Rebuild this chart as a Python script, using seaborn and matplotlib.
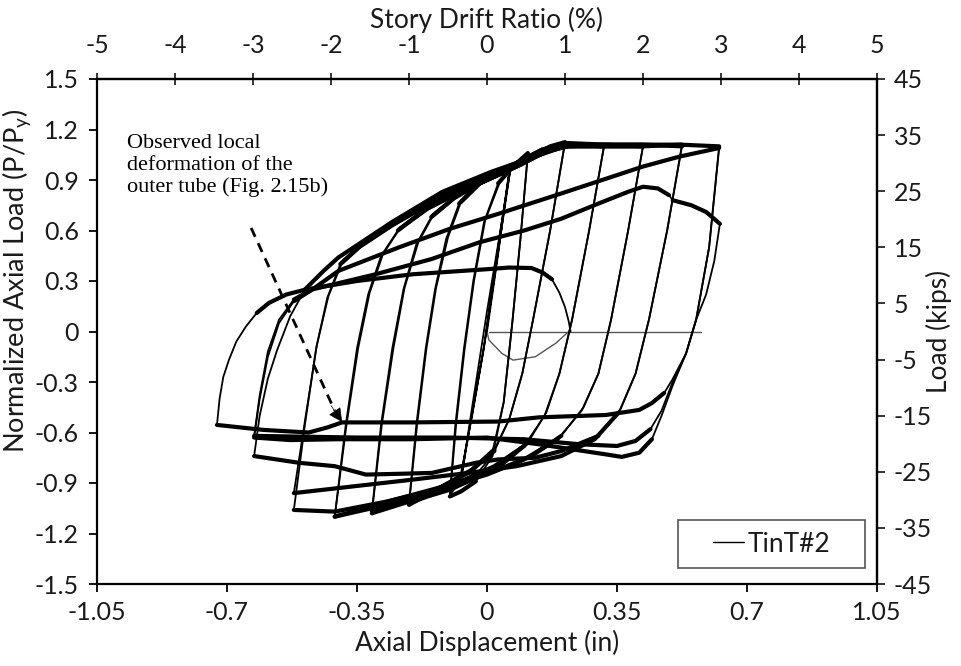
import numpy as np
import pandas as pd
import matplotlib
matplotlib.use("Agg")
import matplotlib.pyplot as plt
import seaborn as sns
from matplotlib.lines import Line2D
from matplotlib.patches import Rectangle

# ---------------- data (axial displacement [in], normalized load P/Py) ----------------
ELASTIC = [(0.0, 0.0), (0.03, 0.46), (0.058, 0.92), (0.03, 0.50), (-0.01, -0.12), (-0.045, -0.55),
           (-0.07, -0.88), (-0.04, -0.45), (0.0, 0.12), (0.03, 0.52), (0.062, 0.95), (0.035, 0.55),
           (-0.005, -0.05), (-0.04, -0.50), (-0.075, -0.90), (-0.10, -0.97)]
R1A = [(-0.10, -0.97), (-0.085, -0.55), (-0.062, -0.10), (-0.037, 0.30), (-0.008, 0.65), (0.03, 0.88),
       (0.07, 0.98), (0.11, 1.05)]
U1A = [(0.11, 1.05), (0.09, 0.55), (0.068, 0.05), (0.045, -0.42), (0.015, -0.74), (-0.03, -0.89),
       (-0.07, -0.95), (-0.10, -0.98)]
R1B = [(-0.10, -0.98), (-0.083, -0.55), (-0.06, -0.10), (-0.035, 0.30), (-0.005, 0.66), (0.035, 0.89),
       (0.075, 0.99), (0.11, 1.06)]
U1B = [(0.11, 1.06), (0.09, 0.55), (0.068, 0.05), (0.045, -0.42), (0.012, -0.74), (-0.04, -0.88),
       (-0.10, -0.94), (-0.16, -0.98), (-0.21, -1.02)]
R2A = [(-0.21, -1.02), (-0.19, -0.55), (-0.165, -0.10), (-0.14, 0.25), (-0.11, 0.55), (-0.075, 0.76),
       (-0.02, 0.88), (0.05, 0.96), (0.12, 1.04), (0.17, 1.10), (0.21, 1.125)]
U2A = [(0.21, 1.125), (0.17, 0.60), (0.124, 0.07), (0.095, -0.25), (0.06, -0.52), (0.02, -0.70),
       (-0.04, -0.82), (-0.12, -0.92), (-0.21, -1.03)]
R2B = [(-0.21, -1.03), (-0.188, -0.55), (-0.163, -0.10), (-0.137, 0.26), (-0.105, 0.56), (-0.07, 0.77),
       (-0.015, 0.89), (0.055, 0.97), (0.125, 1.05), (0.21, 1.12)]
U2B = [(0.21, 1.12), (0.17, 0.60), (0.124, 0.07), (0.095, -0.25), (0.06, -0.52), (0.02, -0.71),
       (-0.05, -0.84), (-0.13, -0.93), (-0.22, -1.00), (-0.31, -1.07)]
R3A = [(-0.31, -1.07), (-0.285, -0.55), (-0.255, -0.10), (-0.225, 0.25), (-0.19, 0.52), (-0.15, 0.68),
       (-0.09, 0.79), (-0.02, 0.88), (0.05, 0.95), (0.12, 1.03), (0.21, 1.11), (0.315, 1.10)]
U3A = [(0.315, 1.10), (0.275, 0.60), (0.229, 0.07), (0.195, -0.25), (0.16, -0.48), (0.11, -0.66),
       (0.04, -0.79), (-0.05, -0.88), (-0.18, -0.99), (-0.31, -1.08)]
R3B = [(-0.31, -1.08), (-0.283, -0.55), (-0.252, -0.10), (-0.222, 0.26), (-0.185, 0.53), (-0.145, 0.69),
       (-0.085, 0.80), (-0.01, 0.89), (0.06, 0.96), (0.13, 1.04), (0.21, 1.10), (0.315, 1.10)]
U3B = [(0.315, 1.10), (0.275, 0.60), (0.229, 0.07), (0.195, -0.25), (0.155, -0.50), (0.10, -0.68),
       (0.02, -0.80), (-0.08, -0.90), (-0.20, -0.99), (-0.31, -1.05), (-0.41, -1.10)]
R4A = [(-0.41, -1.10), (-0.38, -0.55), (-0.35, -0.10), (-0.32, 0.22), (-0.285, 0.45), (-0.24, 0.60),
       (-0.17, 0.72), (-0.09, 0.81), (0.0, 0.90), (0.08, 0.98), (0.15, 1.06), (0.21, 1.10), (0.32, 1.10),
       (0.42, 1.10)]
U4A = [(0.42, 1.10), (0.38, 0.60), (0.334, 0.07), (0.30, -0.25), (0.26, -0.45), (0.20, -0.62),
       (0.12, -0.74), (0.02, -0.83), (-0.10, -0.91), (-0.25, -1.00), (-0.41, -1.10)]
R4B = [(-0.41, -1.10), (-0.378, -0.55), (-0.347, -0.10), (-0.316, 0.23), (-0.28, 0.46), (-0.235, 0.61),
       (-0.16, 0.73), (-0.08, 0.82), (0.01, 0.91), (0.09, 0.99), (0.16, 1.07), (0.22, 1.10), (0.32, 1.11),
       (0.42, 1.10)]
U4B = [(0.42, 1.10), (0.38, 0.60), (0.334, 0.07), (0.30, -0.25), (0.255, -0.47), (0.19, -0.64),
       (0.10, -0.76), (0.0, -0.85), (-0.12, -0.93), (-0.27, -1.01), (-0.41, -1.07), (-0.52, -1.06)]
R5A = [(-0.52, -1.06), (-0.49, -0.55), (-0.46, -0.10), (-0.43, 0.20), (-0.395, 0.40), (-0.345, 0.50),
       (-0.256, 0.63), (-0.12, 0.80), (0.013, 0.93), (0.078, 0.99), (0.148, 1.07), (0.21, 1.11),
       (0.32, 1.10), (0.42, 1.10), (0.525, 1.11)]
U5A = [(0.525, 1.11), (0.485, 0.60), (0.436, 0.07), (0.40, -0.25), (0.355, -0.48), (0.29, -0.64),
       (0.20, -0.74), (0.08, -0.80), (-0.05, -0.84), (-0.20, -0.88), (-0.36, -0.92), (-0.52, -0.96)]
R5B = [(-0.52, -0.96), (-0.488, -0.50), (-0.458, -0.08), (-0.427, 0.21), (-0.39, 0.41), (-0.34, 0.51),
       (-0.25, 0.64), (-0.12, 0.81), (0.013, 0.94), (0.078, 1.00), (0.148, 1.08), (0.21, 1.11),
       (0.32, 1.11), (0.42, 1.11), (0.525, 1.10)]
U5B = [(0.525, 1.10), (0.485, 0.60), (0.436, 0.07), (0.40, -0.25), (0.36, -0.46), (0.30, -0.62),
       (0.20, -0.71), (0.13, -0.75), (0.03, -0.76), (-0.03, -0.78), (-0.148, -0.84), (-0.23, -0.845),
       (-0.326, -0.85), (-0.41, -0.80), (-0.506, -0.78), (-0.627, -0.74)]
R6A = [(-0.627, -0.74), (-0.612, -0.50), (-0.59, -0.28), (-0.565, -0.11), (-0.53, 0.09), (-0.49, 0.25),
       (-0.44, 0.36), (-0.40, 0.44), (-0.345, 0.52), (-0.256, 0.65), (-0.12, 0.83), (0.013, 0.95),
       (0.078, 1.00), (0.148, 1.08), (0.21, 1.12), (0.32, 1.11), (0.42, 1.11), (0.52, 1.11), (0.625, 1.10)]
U6A = [(0.625, 1.10), (0.598, 0.50), (0.563, 0.07), (0.536, -0.13), (0.50, -0.32), (0.47, -0.50),
       (0.444, -0.64), (0.41, -0.72), (0.363, -0.745), (0.32, -0.73), (0.23, -0.70), (0.14, -0.67),
       (0.0, -0.63), (-0.20, -0.64), (-0.40, -0.64), (-0.53, -0.645), (-0.627, -0.63)]
R6B = [(-0.627, -0.63), (-0.612, -0.40), (-0.59, -0.15), (-0.56, 0.05), (-0.52, 0.18), (-0.47, 0.25),
       (-0.40, 0.36), (-0.237, 0.50), (-0.10, 0.61), (0.032, 0.70), (0.20, 0.82), (0.31, 0.90),
       (0.42, 0.98), (0.52, 1.04), (0.625, 1.09)]
U6B = [(0.625, 1.09), (0.598, 0.50), (0.563, 0.07), (0.536, -0.13), (0.50, -0.30), (0.47, -0.47),
       (0.44, -0.58), (0.40, -0.65), (0.35, -0.68), (0.25, -0.67), (0.10, -0.64), (-0.10, -0.63),
       (-0.35, -0.63), (-0.627, -0.62)]
R6C = [(-0.627, -0.62), (-0.612, -0.38), (-0.59, -0.12), (-0.56, 0.07), (-0.52, 0.19), (-0.47, 0.25),
       (-0.30, 0.34), (-0.15, 0.43), (-0.02, 0.53), (0.10, 0.60), (0.20, 0.67), (0.30, 0.76), (0.38, 0.83),
       (0.42, 0.86), (0.46, 0.85), (0.49, 0.81), (0.50, 0.78), (0.55, 0.75), (0.59, 0.71), (0.627, 0.64)]
U6C = [(0.627, 0.64), (0.612, 0.42), (0.59, 0.22), (0.563, 0.07), (0.536, -0.13), (0.498, -0.29),
       (0.477, -0.365), (0.444, -0.425), (0.41, -0.466), (0.32, -0.496), (0.14, -0.51), (0.03, -0.535),
       (-0.20, -0.54), (-0.39, -0.54), (-0.43, -0.57), (-0.48, -0.60), (-0.60, -0.585), (-0.727, -0.555)]
R7 = [(-0.727, -0.555), (-0.72, -0.40), (-0.71, -0.27), (-0.695, -0.17), (-0.675, -0.06), (-0.649, 0.03),
      (-0.62, 0.11), (-0.587, 0.17), (-0.54, 0.22), (-0.487, 0.25), (-0.35, 0.30), (-0.20, 0.34),
      (0.0, 0.37), (0.06, 0.38), (0.12, 0.377), (0.15, 0.35), (0.175, 0.31), (0.195, 0.23), (0.21, 0.145),
      (0.22, 0.06), (0.225, 0.0)]
ZERO_LINE = [(0.005, 0.0), (0.575, 0.0)]
GRAY_DIP = [(0.0, 0.0), (0.005, -0.05), (0.04, -0.13), (0.07, -0.17), (0.13, -0.15), (0.185, -0.07),
            (0.22, 0.0)]

BRANCHES = [ELASTIC, R1A, U1A, R1B, U1B, R2A, U2A, R2B, U2B, R3A, U3A, R3B, U3B, R4A, U4A, R4B, U4B,
            R5A, U5A, R5B, U5B, R6A, U6A, R6B, U6B, R6C, U6C, R7]

X_TICKS = [-1.05, -0.7, -0.35, 0, 0.35, 0.7, 1.05]
X_TICKLABELS = ["-1.05", "-0.7", "-0.35", "0", "0.35", "0.7", "1.05"]
Y_TICKS = [1.5, 1.2, 0.9, 0.6, 0.3, 0, -0.3, -0.6, -0.9, -1.2, -1.5]
Y_TICKLABELS = ["1.5", "1.2", "0.9", "0.6", "0.3", "0", "-0.3", "-0.6", "-0.9", "-1.2", "-1.5"]
DRIFT_TICKS = [-5, -4, -3, -2, -1, 0, 1, 2, 3, 4, 5]
KIPS_TICKS = [45, 35, 25, 15, 5, -5, -15, -25, -35, -45]
DRIFT_PER_IN = 5 / 1.05
KIPS_PER_UNIT = 30.0

# ---------------- build plotting table (thick = noisy yield plateaus) ----------------
rows = []
run = 0
for pts in BRANCHES:
    prev = None
    for (x0, y0), (x1, y1) in zip(pts[:-1], pts[1:]):
        w = "thick" if abs(y1 - y0) < 2.5 * abs(x1 - x0) else "thin"
        if w != prev:
            run += 1
            rows.append((run, w, x0, y0))
            prev = w
        rows.append((run, w, x1, y1))
df = pd.DataFrame(rows, columns=["run", "w", "x", "y"])

gray = pd.concat([
    pd.DataFrame(ZERO_LINE, columns=["x", "y"]).assign(run=0),
    pd.DataFrame(GRAY_DIP, columns=["x", "y"]).assign(run=1),
])

# ---------------- style ----------------
sns.set_theme(style="ticks")
plt.rcParams["font.family"] = ["Lato", "DejaVu Sans"]
plt.rcParams["mathtext.fontset"] = "custom"
plt.rcParams["mathtext.rm"] = "Lato"
TXT = "#1a1a1a"
TICK_FS = 18
LABEL_FS = 19

fig = plt.figure(figsize=(9.62, 6.66), dpi=100)
ax = fig.add_axes([97 / 962, 1 - 584 / 666, 780 / 962, 505 / 666])

sns.lineplot(data=gray, x="x", y="y", units="run", estimator=None, sort=False,
             color="#555555", linewidth=1.0, ax=ax, legend=False)
sns.lineplot(data=df, x="x", y="y", units="run", estimator=None, sort=False,
             size="w", sizes={"thin": 1.3, "thick": 3.0}, color="black",
             ax=ax, legend=False, solid_joinstyle="round", solid_capstyle="round")

ax.set_xlim(-1.05, 1.05)
ax.set_ylim(-1.5, 1.5)
ax.set_xticks(X_TICKS)
ax.set_xticklabels(X_TICKLABELS)
ax.set_yticks(Y_TICKS)
ax.set_yticklabels(Y_TICKLABELS)
ax.set_xlabel("Axial Displacement (in)", fontsize=LABEL_FS, color=TXT)
ax.set_ylabel(r"Normalized Axial Load (P/P$_\mathregular{y}$)", fontsize=19.5, color=TXT)
ax.xaxis.set_label_coords(0.5, -0.09)
ax.yaxis.set_label_coords(-0.082, 0.60)
ax.tick_params(axis="x", direction="out", length=6, width=1.3, labelsize=TICK_FS,
               labelcolor=TXT, color="black", top=False, pad=6)
ax.tick_params(axis="y", direction="out", length=6, width=1.3, labelsize=TICK_FS,
               labelcolor=TXT, color="black", right=False, pad=7)
for s in ax.spines.values():
    s.set_color("black")
    s.set_linewidth(1.6)

top = ax.secondary_xaxis("top", functions=(lambda v: v * DRIFT_PER_IN, lambda v: v / DRIFT_PER_IN))
top.set_xticks(DRIFT_TICKS)
top.set_xticklabels([str(t) for t in DRIFT_TICKS])
top.set_xlabel("Story Drift Ratio (%)", fontsize=LABEL_FS, color=TXT, labelpad=5)
top.tick_params(direction="inout", length=9, width=1.3, labelsize=TICK_FS, labelcolor=TXT, pad=11)
top.spines["top"].set_linewidth(1.6)

right = ax.secondary_yaxis("right", functions=(lambda v: v * KIPS_PER_UNIT, lambda v: v / KIPS_PER_UNIT))
right.set_yticks(KIPS_TICKS)
right.set_yticklabels([str(t) for t in KIPS_TICKS])
right.set_ylabel("Load (kips)", fontsize=LABEL_FS, color=TXT, labelpad=-4)
right.tick_params(direction="out", length=6, width=1.3, labelsize=TICK_FS, labelcolor=TXT, pad=6)
right.spines["right"].set_linewidth(1.6)

# annotation
ax.text(-0.969, 1.175, "Observed local\ndeformation of the\nouter tube (Fig. 2.15b)",
        family=["Liberation Serif", "DejaVu Serif"], fontsize=16, ha="left", va="top",
        linespacing=1.2, color="black")
ax.plot([-0.635, -0.41], [0.615, -0.47], linestyle=(0, (3.5, 2.5)), color="black", lw=2.0)
ax.annotate("", xy=(-0.39, -0.538), xytext=(-0.42, -0.44),
            arrowprops=dict(arrowstyle="-|>", mutation_scale=22, lw=0.5, color="black",
                            shrinkA=0, shrinkB=0))

# legend box
ax.add_patch(Rectangle((0.745, 0.032), 0.24, 0.095, transform=ax.transAxes, fill=False,
                       edgecolor="#555555", lw=1.2, zorder=5))
ax.legend(handles=[Line2D([0], [0], color="black", lw=1.0)], labels=["TinT#2"],
          loc="center left", bbox_to_anchor=(0.79, 0.079), frameon=False, handlelength=1.15,
          handletextpad=0.15, borderaxespad=0, borderpad=0, fontsize=LABEL_FS, labelcolor=TXT)

fig.savefig("out.png", dpi=100, facecolor="white")
